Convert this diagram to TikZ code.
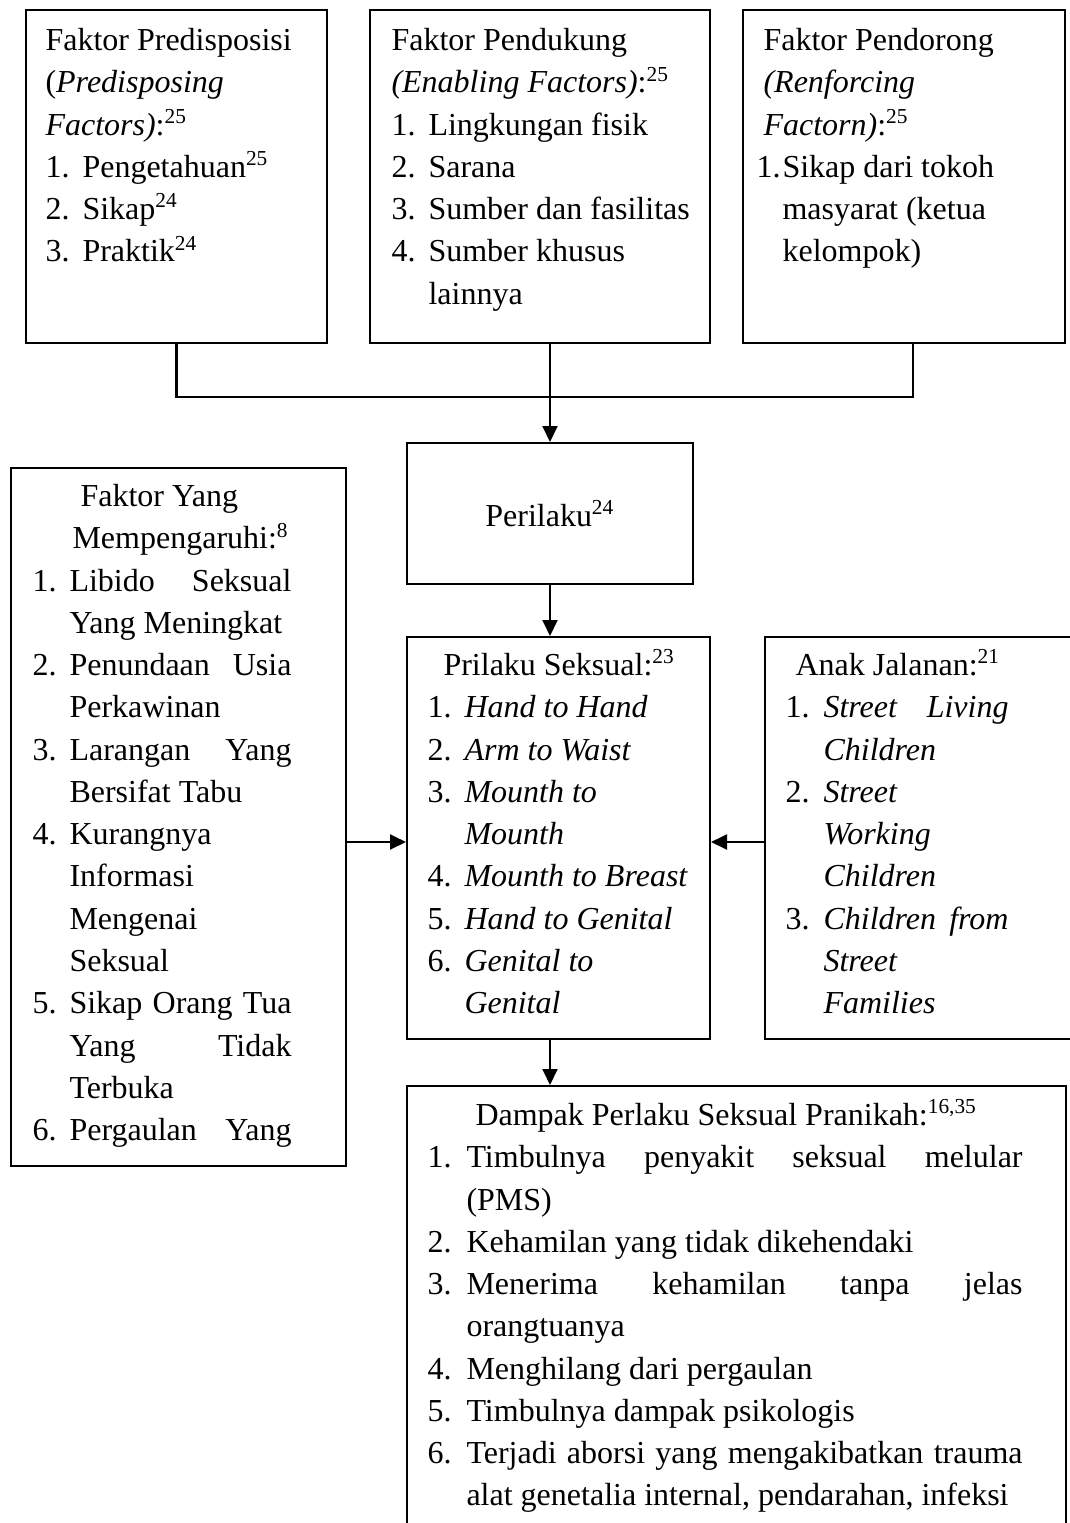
\documentclass[tikz,border=0pt]{standalone}
\usepackage{fontspec}
\setmainfont{Liberation Serif}
\usetikzlibrary{arrows.meta, positioning}

\newdimen\upx \upx=0.375pt
\newcommand{\fs}{\fontsize{12}{15.85}\selectfont}
\newcommand{\nm}[2][37]{\makebox[#1\upx][l]{#2}}
\newcommand{\ind}[1][37]{\hspace*{#1\upx}}
\newcommand{\jl}[2]{\makebox[#1\upx][s]{#2}}

\tikzset{
    box/.style={draw, line width=0.75pt, anchor=north west, inner sep=0pt},
    txt/.style={anchor=north west, inner sep=0pt, align=left, font=\fs},
    link/.style={line width=0.8pt},
    arr/.style={link, -{Triangle[length=6pt, width=5.6pt]}}
}

\begin{document}
\begin{tikzpicture}[x=0.375pt, y=-0.375pt]
    \useasboundingbox (0,0) rectangle (1070,1523);
    \clip (0,0) rectangle (1070,1523);

    % Top row of factors
    \node[box, minimum width=301*\upx, minimum height=333*\upx] (predis) at (25,9) {};
    \node[box, minimum width=340*\upx, minimum height=333*\upx] (dukung) at (369,9) {};
    \node[box, minimum width=322*\upx, minimum height=333*\upx] (dorong) at (742,9) {};

    \node[txt] (predisTxt) at (45,20.4) {\strut Faktor Predisposisi\\
        (\textit{Predisposing}\\
        \textit{Factors)}:\textsuperscript{25}\\
        \nm{1.}Pengetahuan\textsuperscript{25}\\
        \nm{2.}Sikap\textsuperscript{24}\\
        \nm{3.}Praktik\textsuperscript{24}};
    \node[txt] (dukungTxt) at (391,20.4) {\strut Faktor Pendukung\\
        \textit{(Enabling Factors)}:\textsuperscript{25}\\
        \nm{1.}Lingkungan fisik\\
        \nm{2.}Sarana\\
        \nm{3.}Sumber dan fasilitas\\
        \nm{4.}Sumber khusus\\
        \ind lainnya};
    \node[txt] (dorongTxt) at (756,20.4) {\strut\ind[7]Faktor Pendorong\\
        \ind[7]\textit{(Renforcing}\\
        \ind[7]\textit{Factorn)}:\textsuperscript{25}\\
        \nm[26]{1.}Sikap dari tokoh\\
        \ind[26]masyarat (ketua\\
        \ind[26]kelompok)};

    % Middle
    \node[box, minimum width=286*\upx, minimum height=141*\upx] (perilaku) at (406,442) {};
    \node[font=\fs] (perilakuTxt) at (perilaku.center) {Perilaku\textsuperscript{24}};

    \node[box, minimum width=335*\upx, minimum height=698*\upx] (pengaruh) at (10,467) {};
    \node[box, minimum width=303*\upx, minimum height=402*\upx] (seksual) at (406,636) {};
    \node[box, minimum width=330*\upx, minimum height=402*\upx] (anak) at (764,636) {};

    \node[txt] (pengaruhTxt) at (32,476.4) {\strut\ind[48]Faktor Yang\\
        \ind[40]Mempengaruhi:\textsuperscript{8}\\
        \nm{1.}\jl{222}{Libido Seksual}\\
        \ind Yang Meningkat\\
        \nm{2.}\jl{222}{Penundaan Usia}\\
        \ind Perkawinan\\
        \nm{3.}\jl{222}{Larangan Yang}\\
        \ind Bersifat Tabu\\
        \nm{4.}Kurangnya\\
        \ind Informasi\\
        \ind Mengenai\\
        \ind Seksual\\
        \nm{5.}\jl{222}{Sikap Orang Tua}\\
        \ind\jl{222}{Yang Tidak}\\
        \ind Terbuka\\
        \nm{6.}\jl{222}{Pergaulan Yang}};
    \node[txt] (seksualTxt) at (427,645.4) {\strut\ind[16]Prilaku Seksual:\textsuperscript{23}\\
        \nm{1.}\textit{Hand to Hand}\\
        \nm{2.}\textit{Arm to Waist}\\
        \nm{3.}\textit{Mounth to}\\
        \ind\textit{Mounth}\\
        \nm{4.}\textit{Mounth to Breast}\\
        \nm{5.}\textit{Hand to Genital}\\
        \nm{6.}\textit{Genital to}\\
        \ind\textit{Genital}};
    \node[txt] (anakTxt) at (785,645.4) {\strut\ind[10]Anak Jalanan:\textsuperscript{21}\\
        \nm[38]{1.}\jl{185}{\textit{Street Living}}\\
        \ind[38]\textit{Children}\\
        \nm[38]{2.}\textit{Street}\\
        \ind[38]\textit{Working}\\
        \ind[38]\textit{Children}\\
        \nm[38]{3.}\jl{185}{\textit{Children from}}\\
        \ind[38]\textit{Street}\\
        \ind[38]\textit{Families}};

    % Bottom
    \node[box, minimum width=659*\upx, minimum height=460*\upx] (dampak) at (406,1085) {};
    \node[txt] (dampakTxt) at (427,1095.4) {\strut\ind[48]Dampak Perlaku Seksual Pranikah:\textsuperscript{16,35}\\
        \nm[39]{1.}\jl{556}{Timbulnya penyakit seksual melular}\\
        \ind[39](PMS)\\
        \nm[39]{2.}Kehamilan yang tidak dikehendaki\\
        \nm[39]{3.}\jl{556}{Menerima kehamilan tanpa jelas}\\
        \ind[39]orangtuanya\\
        \nm[39]{4.}Menghilang dari pergaulan\\
        \nm[39]{5.}Timbulnya dampak psikologis\\
        \nm[39]{6.}\jl{556}{Terjadi aborsi yang mengakibatkan trauma}\\
        \ind[39]alat genetalia internal, pendarahan, infeksi};

    % Connectors
    \coordinate (hubR) at (913,397);
    \coordinate (midL) at (0,842);
    \draw[link] (predis.south) |- (hubR) -- (hubR |- dorong.south);
    \draw[arr] (dukung.south -| perilaku.north) -- (perilaku.north);
    \draw[arr] (perilaku.south) -- (perilaku.south |- seksual.north);
    \draw[arr] (seksual.south -| perilaku.south) -- (perilaku.south |- dampak.north);
    \draw[arr] (pengaruh.east |- midL) -- (seksual.west |- midL);
    \draw[arr] (anak.west |- midL) -- (seksual.east |- midL);
\end{tikzpicture}
\end{document}
